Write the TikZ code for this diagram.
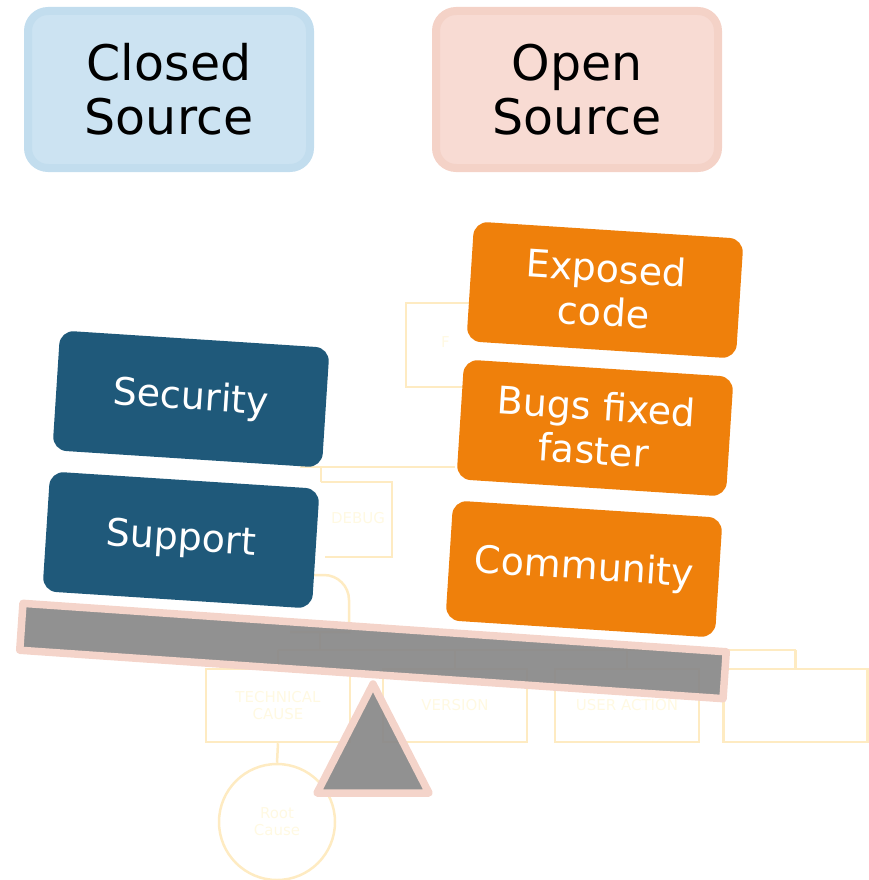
\documentclass[tikz,border=0pt]{standalone}
\usepackage{fontspec}
\setmainfont{DejaVu Sans}
\definecolor{closedfill}{RGB}{204,227,242}
\definecolor{closedline}{RGB}{194,221,238}
\definecolor{openfill}{RGB}{248,219,211}
\definecolor{openline}{RGB}{244,210,199}
\definecolor{navy}{RGB}{31,89,122}
\definecolor{amber}{RGB}{239,128,11}
\definecolor{slate}{RGB}{137,137,137}
\definecolor{blush}{RGB}{244,212,202}
\definecolor{ghostline}{RGB}{254,235,194}
\definecolor{ghostink}{RGB}{255,249,226}
\tikzset{
  titlebox/.style={rounded corners=20pt, line width=8pt, minimum width=282pt,
    minimum height=157pt, align=center, inner sep=0pt,
    font=\fontsize{49}{54}\selectfont},
  card/.style={rounded corners=14pt, minimum width=270pt, minimum height=120pt,
    align=center, inner sep=0pt, text=white, rotate=-3.7,
    font=\fontsize{38}{44}\selectfont},
  bluecard/.style={card, fill=navy},
  orangecard/.style={card, fill=amber},
  ghost/.style={draw=ghostline, line width=2.5pt},
  ghostbox/.style={ghost, minimum width=144pt, minimum height=73pt, inner sep=0pt,
    align=center, text=ghostink, font=\fontsize{15}{17}\selectfont},
  ghosttext/.style={text=ghostink, font=\fontsize{15}{17}\selectfont, inner sep=0pt},
  heavy/.style={draw=blush, line width=7.5pt, line join=round, fill=slate,
    fill opacity=0.93, draw opacity=1},
}
\begin{document}
\begin{tikzpicture}[x=1pt, y={(0pt,-1pt)}]
\useasboundingbox (0,0) rectangle (869,880);

% faint tree in the background
\node[ghostbox] (tech) at (278,705.5) {TECHNICAL\\CAUSE};
\node[ghostbox] (ver) at (455,705.5) {VERSION};
\node[ghostbox] (user) at (627,705.5) {USER ACTION};
\node[ghostbox] (other) at (795.5,705.5) {};
\node[ghost, circle, minimum size=116pt, inner sep=0pt, align=center,
      text=ghostink, font=\fontsize{15}{17}\selectfont] (root) at (277,822) {Root\\Cause};

% rounded parent frame, mostly hidden behind the weights
\coordinate (capL) at (295,575);
\coordinate (capB) at (290,632);
\coordinate (capR) at (349,632);
\draw[ghost] (capL) -- (324,575) arc[start angle=90, end angle=0, radius=25pt]
  -- (capR) -- (capB);

\coordinate (busL) at (278,650);
\coordinate (busR) at (796,650);
\coordinate (stem) at (320,650);
\draw[ghost] (busL) -- (busR);
\draw[ghost] (stem |- capR) -- (stem);
\draw[ghost] (tech.north) -- (tech.north |- busL);
\draw[ghost] (ver.north) -- (ver.north |- busL);
\draw[ghost] (user.north) -- (user.north |- busL);
\draw[ghost] (other.north) -- (other.north |- busL);
\draw[ghost] (tech.south) -- (root.north);

% small frame labelled DEBUG
\coordinate (dbgTL) at (321,482);
\coordinate (dbgBL) at (325,557);
\draw[ghost] (dbgTL) -- (392,482) -- (392,557) -- (dbgBL);
\node[ghosttext] (debuglabel) at (358,518) {DEBUG};
\coordinate (dj) at (321,467);
\coordinate (dr) at (455,467);
\coordinate (dl) at (300,467);
\draw[ghost] (dbgTL) -- (dj);
\draw[ghost] (dl) -- (dr);

% bracket frame on the open side
\coordinate (fixT) at (475,303);
\coordinate (fixB) at (475,387);
\draw[ghost] (fixT) -- (406,303) -- (406,387) -- (fixB);
\node[ghosttext, anchor=west] (fixlabel) at (441,342) {F};

% headings
\node[titlebox, fill=closedfill, draw=closedline] (closed) at (169,89.5) {Closed\\Source};
\node[titlebox, fill=openfill, draw=openline] (open) at (577,89.5) {Open\\Source};

% seesaw
\node[heavy, rotate=-3.94, minimum width=705pt, minimum height=47pt, inner sep=0pt]
  (beam) at (373,651) {};
\draw[heavy] (373,684) -- (429,793) -- (317,793) -- cycle;

% weights on each side
\node[bluecard] (security) at (191,399) {Security};
\node[bluecard] (support) at (181,540) {Support};
\node[orangecard] (exposed) at (605,290) {Exposed\\code};
\node[orangecard] (bugs) at (595,428) {Bugs fixed\\faster};
\node[orangecard] (community) at (584,569) {Community};
\end{tikzpicture}
\end{document}
